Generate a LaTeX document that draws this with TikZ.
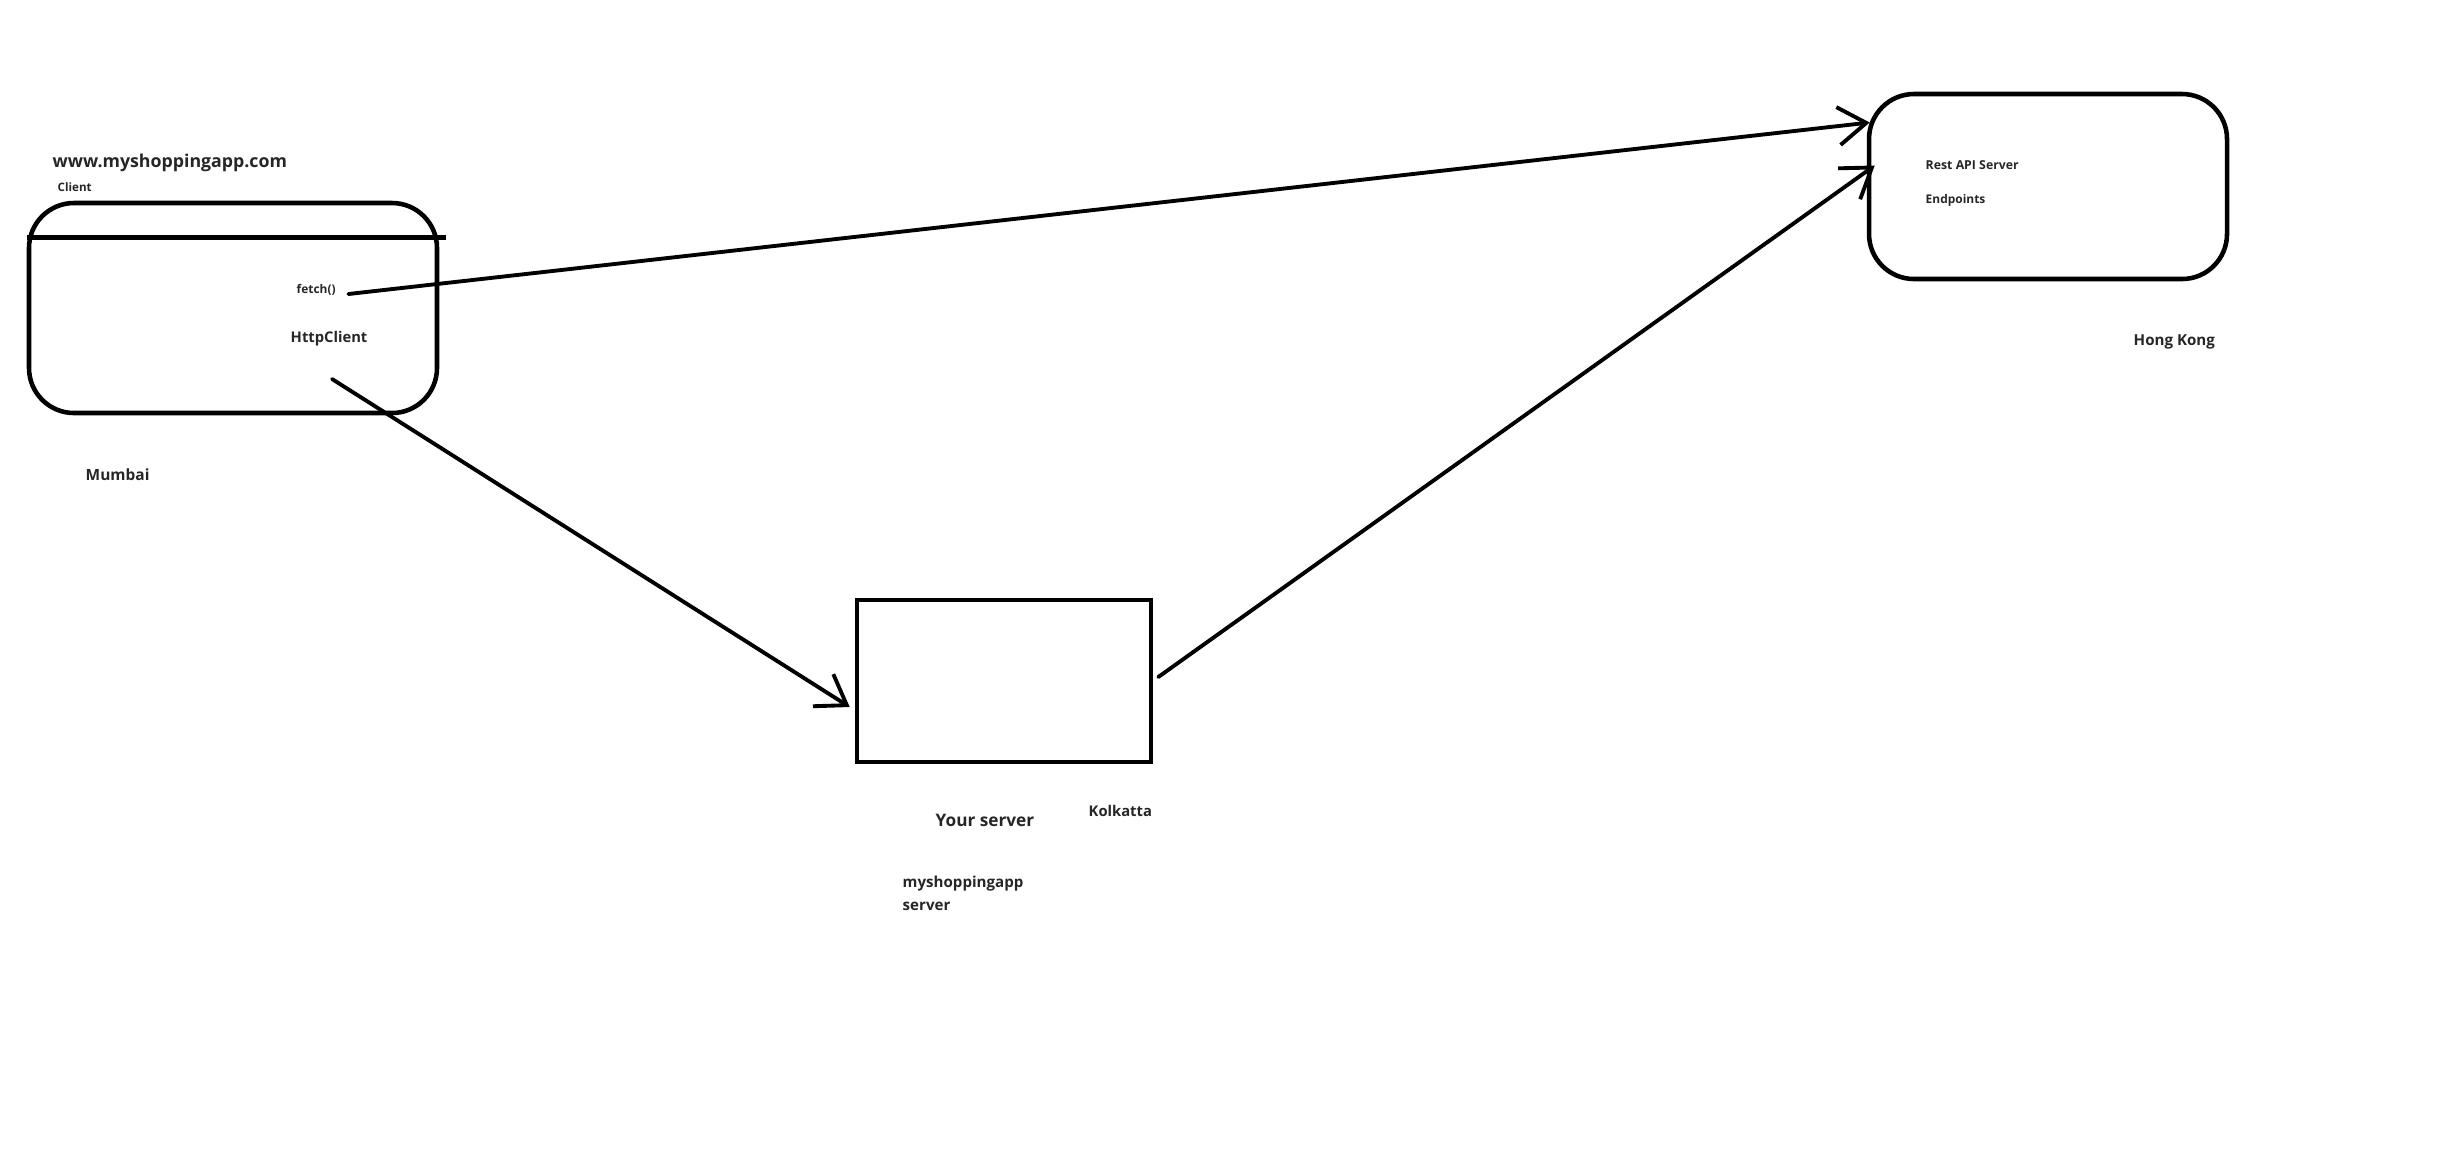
\documentclass[tikz,border=0pt]{standalone}
\usepackage{fontspec}
\setmainfont{Open Sans}
\usetikzlibrary{arrows.meta,calc}

\begin{document}
\begin{tikzpicture}[x=0.1mm, y=-0.1mm,
	box/.style = {draw, line width=1.3pt},
	lbl/.style = {font=\bfseries\fontsize{#1}{#1}\selectfont, inner sep=0, anchor=west, text=black!85},
	arr/.style = {line width=1.1pt, line cap=round, -{Straight Barb[length=2.8mm, width=3.8mm]}}]

	\useasboundingbox (0,0) rectangle (2458,1158);

	\node[box, rounded corners=4.5mm, minimum width=40.8mm, minimum height=21mm] (client) at (233,308) {};
	\node[box, minimum width=29.4mm, minimum height=16.2mm] (server) at (1004,681) {};
	\node[box, rounded corners=4.5mm, minimum width=35.8mm, minimum height=18.5mm] (api) at (2048,186.5) {};

	\draw[line width=1.3pt] ($(client.north west)+(0,37)$) -- ($(client.north east)+(7,37)$);

	\node[lbl=5.05] (site) at (52,163) {www.myshoppingapp.com};
	\node[lbl=3.3] (cl) at (57,187) {Client};
	\node[lbl=3.4] (fetch) at (296,290) {fetch()};
	\node[lbl=4.2] (http) at (290,339) {HttpClient};
	\node[lbl=4.4] (mumbai) at (85,475) {Mumbai};

	\node[lbl=4.9] (yours) at (935,820) {Your server};
	\node[lbl=4.2] (kolkatta) at (1088,811) {Kolkatta};
	\node[lbl=4.3, align=left, anchor=north west, font=\bfseries\fontsize{4.3}{6.5}\selectfont] (appsrv) at (902,875) {myshoppingapp\\server};

	\node[lbl=3.5] (rest) at (1925,165) {Rest API Server};
	\node[lbl=3.4] (endp) at (1925,200) {Endpoints};
	\node[lbl=4.3] (hk) at (2133,342) {Hong Kong};

	\draw[arr] ($(fetch.east)+(12,4)$) -- ($(api.west)+(3,-64)$);
	\draw[arr] ($(http.center)+(3,40)$) -- ($(server.west)+(-5,26)$);
	\draw[arr] ($(server.east)+(5,-4)$) -- ($(api.west)+(8,-21)$);

\end{tikzpicture}
\end{document}
